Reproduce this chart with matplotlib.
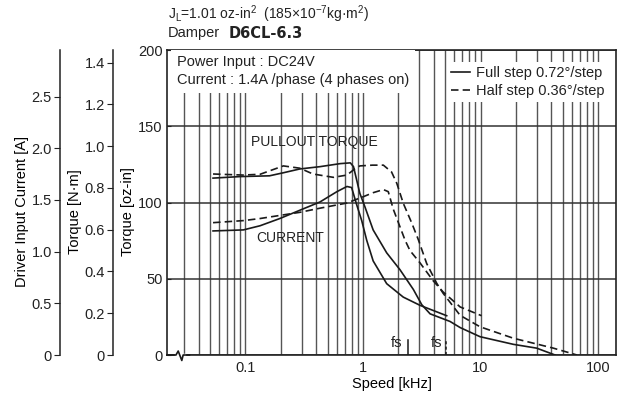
import matplotlib
matplotlib.use("Agg")
import matplotlib.pyplot as plt
from matplotlib.ticker import FixedLocator, NullFormatter

# ----------------------------- Datos ---------------------------------------
# Par (oz-in) paso completo
f_torque_full = [0.053, 0.09, 0.16, 0.21, 0.29, 0.43, 0.64, 0.78, 0.83, 0.94,
                 1.04, 1.22, 1.59, 2.06, 2.68, 3.16, 3.72, 5.5, 6.7, 9.9,
                 19.0, 30.0, 43.0]
torque_full = [116, 117, 117.5, 119.5, 122, 123.5, 125.5, 126, 123.5, 106,
               97, 82, 67, 56, 43, 33, 27, 22, 18, 12,
               7, 4.5, 0]

# Par (oz-in) medio paso
f_torque_half = [0.053, 0.095, 0.133, 0.21, 0.29, 0.375, 0.56, 0.73, 0.85, 0.94,
                 1.2, 1.49, 1.75, 1.94, 2.2, 2.6, 2.96, 3.48, 4.24, 4.8,
                 6.7, 9.9, 19.0, 41.6, 66.0]
torque_half = [118.7, 118, 118.5, 124, 122.5, 118.7, 116.5, 118, 122, 124,
               124.5, 124.5, 120, 112.5, 99.5, 86.5, 75.5, 60, 47, 40.5,
               26, 18.5, 11, 4.5, 0]

# Corriente (A) paso completo
f_cur_full = [0.053, 0.096, 0.133, 0.196, 0.29, 0.43, 0.6, 0.73, 0.80, 0.88,
              0.975, 1.075, 1.22, 1.59, 2.2, 3.06, 5.15]
cur_full = [1.20, 1.21, 1.25, 1.32, 1.40, 1.48, 1.58, 1.63, 1.62, 1.46,
            1.30, 1.11, 0.91, 0.69, 0.56, 0.48, 0.38]

# Corriente (A) medio paso
f_cur_half = [0.053, 0.096, 0.133, 0.196, 0.29, 0.43, 0.73, 1.0, 1.22, 1.49,
              1.64, 1.81, 2.0, 2.28, 2.51, 3.06, 3.94, 4.8, 6.7, 10.2]
cur_half = [1.28, 1.30, 1.32, 1.35, 1.38, 1.42, 1.47, 1.53, 1.57, 1.60,
            1.58, 1.41, 1.28, 1.11, 1.01, 0.89, 0.72, 0.61, 0.465, 0.38]

# Frecuencias de arranque fs (kHz)
fs_full = 2.4
fs_half = 5.1

X_TICKS = [0.1, 1, 10, 100]
X_TICKLABELS = ["0.1", "1", "10", "100"]
OZ_TICKS = [0, 50, 100, 150, 200]
NM_TICKS = [0, 0.2, 0.4, 0.6, 0.8, 1.0, 1.2, 1.4]
NM_TOP = 1.46
A_TICKS = [0, 0.5, 1.0, 1.5, 2.0, 2.5]
A_TOP = 2.95

# ----------------------------- Estilo ---------------------------------------
FAM = ["Liberation Sans Narrow", "Liberation Sans", "DejaVu Sans"]
plt.rcParams.update({
    "font.family": FAM,
    "font.size": 10.5,
    "text.color": "#222222",
    "axes.edgecolor": "#222222",
    "xtick.color": "#222222",
    "ytick.color": "#222222",
})
INK = "#1a1a1a"
GRID = "#555555"

fig = plt.figure(figsize=(6.24, 4.03), dpi=100)
ax = fig.add_axes([0.2676, 0.1191, 0.7196, 0.7568])

ax.set_xscale("log")
ax.set_xlim(0.0215, 142)
ax.set_ylim(0, 200)

# rejilla
minor = [m * 10.0 ** e for e in (-2, -1, 0, 1) for m in range(2, 10) if m * 10.0 ** e >= 0.03]
ax.xaxis.set_major_locator(FixedLocator(X_TICKS))
ax.xaxis.set_minor_locator(FixedLocator(minor))
ax.xaxis.set_minor_formatter(NullFormatter())
ax.set_xticklabels(X_TICKLABELS)
ax.set_yticks(OZ_TICKS)
ax.grid(axis="x", which="both", color=GRID, lw=1.0, zorder=0)
ax.grid(axis="y", which="major", color="#333333", lw=1.1, zorder=0)
ax.tick_params(axis="x", which="both", length=0, pad=4, labelsize=10.5)
ax.tick_params(axis="y", length=3, direction="in", pad=3, labelsize=10.5)
for s in ax.spines.values():
    s.set_linewidth(1.2)
ax.set_ylabel("Torque [oz-in]", fontsize=10.5)
ax.yaxis.set_label_coords(-0.071, 0.47)
ax.set_xlabel("Speed [kHz]", fontsize=10.5, labelpad=2)

# curvas de par
dash = (0, (4.5, 2.5))
l_full, = ax.plot(f_torque_full, torque_full, color=INK, lw=1.2, zorder=3)
l_half, = ax.plot(f_torque_half, torque_half, color=INK, lw=1.2, ls=dash, zorder=3)

# marcas fs
ax.plot([fs_full, fs_full], [0, 10], color=INK, lw=1.1, zorder=3)
ax.plot([fs_half, fs_half], [0, 10], color=INK, lw=1.1, ls=(0, (2, 1.5)), zorder=3)
ax.text(fs_full * 0.9, 3, "fs", ha="right", va="bottom", fontsize=10.5, zorder=4)
ax.text(fs_half * 0.92, 3, "fs", ha="right", va="bottom", fontsize=10.5, zorder=4)

# corte del eje x
ax.plot([0.020, 0.038], [0, 0], transform=ax.transAxes, color="white", lw=2.5,
        clip_on=False, zorder=5)
ax.plot([0.0, 0.020, 0.025, 0.033, 0.036, 0.038, 0.05],
        [0, 0, 0.013, -0.018, 0, 0, 0],
        transform=ax.transAxes, color=INK, lw=1.2, clip_on=False, zorder=6)

# textos
ax.text(0.0223, 0.930, "Power Input : DC24V\nCurrent : 1.4A /phase (4 phases on)",
        transform=ax.transAxes, ha="left", va="center", fontsize=10.5,
        linespacing=1.35, zorder=4,
        bbox=dict(facecolor="white", edgecolor="none", pad=4))
ax.text(0.187, 0.70, "PULLOUT TORQUE", transform=ax.transAxes, ha="left",
        va="center", fontsize=10, zorder=4)
ax.text(0.198, 0.385, "CURRENT", transform=ax.transAxes, ha="left",
        va="center", fontsize=10, zorder=4)

leg = ax.legend([l_full, l_half], ["Full step 0.72°/step", "Half step 0.36°/step"],
                loc="upper right", bbox_to_anchor=(1.0, 0.985), frameon=True,
                fancybox=False, edgecolor="none", facecolor="white", framealpha=1,
                handlelength=1.3, handletextpad=0.4, labelspacing=0.25,
                borderpad=0.3, fontsize=10.5)
leg.set_zorder(4)


def eje_izq(offset, top, ticks, labels, titulo, lx):
    """Eje vertical extra a la izquierda, sin caja."""
    a = ax.twinx()
    a.set_ylim(0, top)
    a.yaxis.set_ticks_position("left")
    a.yaxis.set_label_position("left")
    for k in ("top", "right", "bottom"):
        a.spines[k].set_visible(False)
    a.spines["left"].set_visible(True)
    a.spines["left"].set_position(("axes", offset))
    a.spines["left"].set_linewidth(1.1)
    a.set_yticks(ticks)
    a.set_yticklabels(labels)
    a.tick_params(axis="y", length=4, pad=2, labelsize=10.5)
    a.set_ylabel(titulo, fontsize=10.5)
    a.yaxis.set_label_coords(lx, 0.47)
    return a


# eje de corriente
ax_cur = eje_izq(-0.238, A_TOP, A_TICKS, ["0", "0.5", "1.0", "1.5", "2.0", "2.5"],
                 "Driver Input Current [A]", -0.307)
ax_cur.plot(f_cur_full, cur_full, color=INK, lw=1.2, zorder=3)
ax_cur.plot(f_cur_half, cur_half, color=INK, lw=1.2, ls=dash, zorder=3)

# eje N·m
ax_nm = eje_izq(-0.120, NM_TOP, NM_TICKS,
                ["0", "0.2", "0.4", "0.6", "0.8", "1.0", "1.2", "1.4"],
                "Torque [N·m]", -0.189)

# cabecera
fig.text(0.269, 0.965,
         "J$_\\mathregular{L}$=1.01 oz-in$^\\mathregular{2}$  (185×10$^\\mathregular{-7}$kg·m$^\\mathregular{2}$)",
         ha="left", va="center", fontsize=10)
fig.text(0.269, 0.918, "Damper", ha="left", va="center", fontsize=10.5)
fig.text(0.367, 0.918, "D6CL-6.3", ha="left", va="center", fontsize=10.5,
         fontweight="bold", family="DejaVu Sans")

fig.savefig("out.png", dpi=100, facecolor="white")
